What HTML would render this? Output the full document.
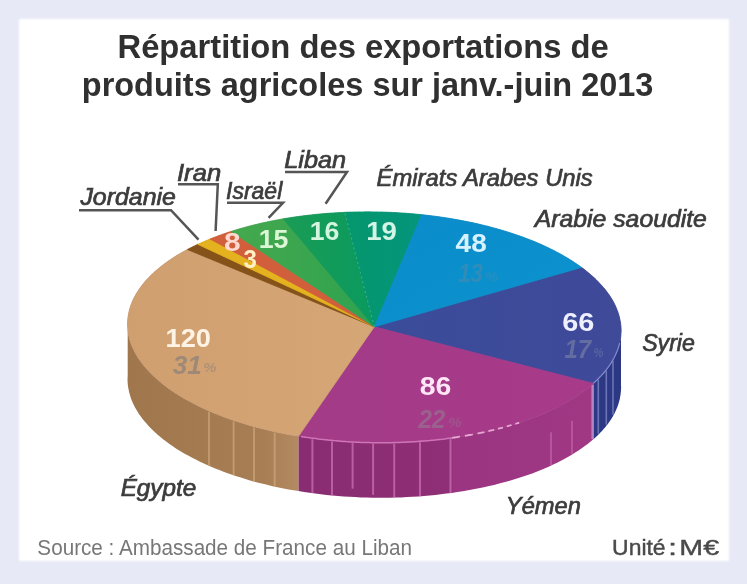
<!DOCTYPE html>
<html lang="fr"><head><meta charset="utf-8"><title>Répartition des exportations de produits agricoles</title>
<style>
html,body{margin:0;padding:0}
body{width:747px;height:584px;background:#e7e9f6;position:relative;overflow:hidden;font-family:"Liberation Sans",sans-serif}
.panel{position:absolute;left:19px;top:19px;width:710px;height:542px;background:#fff;filter:blur(1px)}
</style></head><body>
<div class="panel"></div>
<svg width="747" height="584" viewBox="0 0 747 584" style="position:absolute;left:0;top:0;filter:blur(0.55px)">
<defs>
<linearGradient id="geg" x1="0" y1="0" x2="1" y2="0"><stop offset="0" stop-color="#d09f70"/><stop offset="1" stop-color="#d5a676"/></linearGradient>
<linearGradient id="gye" x1="0" y1="0" x2="1" y2="0"><stop offset="0" stop-color="#a33b87"/><stop offset="1" stop-color="#a83a8a"/></linearGradient>
<linearGradient id="gsy" x1="0" y1="0" x2="1" y2="0"><stop offset="0" stop-color="#3a4c9a"/><stop offset="1" stop-color="#3f4a99"/></linearGradient>
<linearGradient id="gar" x1="0" y1="0" x2="1" y2="1"><stop offset="0" stop-color="#0a8cc9"/><stop offset="1" stop-color="#0c93cf"/></linearGradient>
<linearGradient id="gem" x1="0" y1="0" x2="1" y2="0"><stop offset="0" stop-color="#05976c"/><stop offset="1" stop-color="#04957c"/></linearGradient>
<linearGradient id="gli" x1="0" y1="0" x2="1" y2="0"><stop offset="0" stop-color="#1a9c55"/><stop offset="1" stop-color="#0a9a5f"/></linearGradient>
<linearGradient id="gis" x1="0" y1="0" x2="1" y2="0"><stop offset="0" stop-color="#45a94e"/><stop offset="1" stop-color="#2fa250"/></linearGradient>
<linearGradient id="gsideeg" gradientUnits="userSpaceOnUse" x1="127" y1="0" x2="299" y2="0"><stop offset="0" stop-color="#a0764c"/><stop offset="0.8" stop-color="#a87e55"/><stop offset="1" stop-color="#b48a62"/></linearGradient>
<linearGradient id="gsideye" gradientUnits="userSpaceOnUse" x1="299" y1="0" x2="592" y2="0"><stop offset="0" stop-color="#892c71"/><stop offset="0.51" stop-color="#8f2f77"/><stop offset="0.53" stop-color="#9b3581"/><stop offset="1" stop-color="#a03884"/></linearGradient>
</defs>
<path d="M298.6 436.1 L293.6 435.3 L288.5 434.4 L283.6 433.4 L278.6 432.4 L273.7 431.4 L268.9 430.3 L264.1 429.1 L259.3 427.9 L254.6 426.7 L250.0 425.4 L245.4 424.0 L240.9 422.6 L236.4 421.2 L232.1 419.7 L227.7 418.2 L223.5 416.7 L219.3 415.0 L215.2 413.4 L211.1 411.7 L207.2 410.0 L203.3 408.2 L199.5 406.4 L195.8 404.6 L192.1 402.7 L188.6 400.8 L185.1 398.9 L181.7 396.9 L178.4 394.9 L175.2 392.9 L172.1 390.8 L169.1 388.7 L166.2 386.6 L163.4 384.4 L160.7 382.2 L158.0 380.0 L155.5 377.8 L153.1 375.5 L150.8 373.3 L148.6 371.0 L146.5 368.6 L144.5 366.3 L142.6 363.9 L140.8 361.6 L139.1 359.2 L137.6 356.8 L136.1 354.3 L134.8 351.9 L133.6 349.5 L132.4 347.0 L131.4 344.6 L130.5 342.1 L129.8 339.6 L129.1 337.1 L128.6 334.6 L128.1 332.1 L127.8 329.6 L127.6 327.1 L127.5 324.6 L127.6 322.2 L127.7 319.7 L127.7 374.7 L127.6 377.2 L127.5 379.6 L127.6 382.1 L127.8 384.6 L128.1 387.1 L128.6 389.6 L129.1 392.1 L129.8 394.6 L130.5 397.1 L131.4 399.6 L132.4 402.0 L133.6 404.5 L134.8 406.9 L136.1 409.3 L137.6 411.8 L139.1 414.2 L140.8 416.6 L142.6 418.9 L144.5 421.3 L146.5 423.6 L148.6 426.0 L150.8 428.3 L153.1 430.5 L155.5 432.8 L158.0 435.0 L160.7 437.2 L163.4 439.4 L166.2 441.6 L169.1 443.7 L172.1 445.8 L175.2 447.9 L178.4 449.9 L181.7 451.9 L185.1 453.9 L188.6 455.8 L192.1 457.7 L195.8 459.6 L199.5 461.4 L203.3 463.2 L207.2 465.0 L211.1 466.7 L215.2 468.4 L219.3 470.0 L223.5 471.7 L227.7 473.2 L232.1 474.7 L236.4 476.2 L240.9 477.6 L245.4 479.0 L250.0 480.4 L254.6 481.7 L259.3 482.9 L264.1 484.1 L268.9 485.3 L273.7 486.4 L278.6 487.4 L283.6 488.4 L288.5 489.4 L293.6 490.3 L298.6 491.1Z" fill="url(#gsideeg)"/>
<path d="M593.3 383.4 L590.6 385.7 L587.7 388.1 L584.8 390.3 L581.7 392.6 L578.5 394.8 L575.2 397.0 L571.8 399.1 L568.3 401.2 L564.7 403.2 L561.0 405.3 L557.1 407.2 L553.2 409.2 L549.2 411.0 L545.1 412.9 L540.9 414.7 L536.6 416.4 L532.2 418.1 L527.7 419.7 L523.1 421.3 L518.5 422.9 L513.7 424.4 L508.9 425.8 L504.1 427.2 L499.1 428.5 L494.1 429.8 L489.0 431.0 L483.9 432.2 L478.7 433.3 L473.4 434.3 L468.1 435.3 L462.8 436.2 L457.3 437.1 L451.9 437.9 L446.4 438.6 L440.8 439.3 L435.3 439.9 L429.7 440.5 L424.0 441.0 L418.4 441.4 L412.7 441.8 L407.0 442.1 L401.2 442.4 L395.5 442.6 L389.7 442.7 L384.0 442.8 L378.2 442.8 L372.4 442.7 L366.6 442.6 L360.9 442.4 L355.1 442.1 L349.4 441.8 L343.6 441.4 L337.9 441.0 L332.2 440.5 L326.5 439.9 L320.9 439.3 L315.3 438.6 L309.7 437.8 L304.1 437.0 L298.6 436.1 L298.6 491.1 L304.1 492.0 L309.7 492.8 L315.3 493.6 L320.9 494.3 L326.5 494.9 L332.2 495.5 L337.9 496.0 L343.6 496.4 L349.4 496.8 L355.1 497.1 L360.9 497.4 L366.6 497.6 L372.4 497.7 L378.2 497.8 L384.0 497.8 L389.7 497.7 L395.5 497.6 L401.2 497.4 L407.0 497.1 L412.7 496.8 L418.4 496.4 L424.0 496.0 L429.7 495.5 L435.3 494.9 L440.8 494.3 L446.4 493.6 L451.9 492.9 L457.3 492.1 L462.8 491.2 L468.1 490.3 L473.4 489.3 L478.7 488.3 L483.9 487.2 L489.0 486.1 L494.1 484.9 L499.1 483.6 L504.1 482.3 L508.9 480.9 L513.7 479.5 L518.5 478.1 L523.1 476.5 L527.7 475.0 L532.2 473.4 L536.6 471.7 L540.9 470.0 L545.1 468.2 L549.2 466.4 L553.2 464.6 L557.1 462.7 L561.0 460.8 L564.7 458.8 L568.3 456.8 L571.8 454.7 L575.2 452.6 L578.5 450.5 L581.7 448.3 L584.8 446.1 L587.7 443.9 L590.6 441.6 L593.3 439.3Z" fill="url(#gsideye)"/>
<path d="M621.0 328.0 L621.0 329.0 L621.1 329.9 L621.1 330.9 L621.1 331.9 L621.0 332.8 L621.0 333.8 L620.9 334.8 L620.8 335.7 L620.7 336.7 L620.6 337.6 L620.5 338.6 L620.3 339.6 L620.1 340.5 L620.0 341.5 L619.8 342.4 L619.5 343.4 L619.3 344.3 L619.0 345.3 L618.8 346.3 L618.5 347.2 L618.2 348.2 L617.9 349.1 L617.5 350.0 L617.2 351.0 L616.8 351.9 L616.4 352.9 L616.0 353.8 L615.6 354.8 L615.1 355.7 L614.7 356.6 L614.2 357.6 L613.7 358.5 L613.2 359.4 L612.7 360.3 L612.1 361.3 L611.6 362.2 L611.0 363.1 L610.4 364.0 L609.8 364.9 L609.2 365.8 L608.5 366.7 L607.9 367.6 L607.2 368.5 L606.5 369.4 L605.8 370.3 L605.1 371.2 L604.3 372.1 L603.6 373.0 L602.8 373.9 L602.0 374.8 L601.2 375.7 L600.4 376.5 L599.6 377.4 L598.7 378.3 L597.9 379.1 L597.0 380.0 L596.1 380.8 L595.2 381.7 L594.2 382.6 L593.3 383.4 L593.3 439.3 L594.2 438.5 L595.2 437.7 L596.1 436.8 L597.0 436.0 L597.9 435.2 L598.7 434.3 L599.6 433.5 L600.4 432.6 L601.2 431.7 L602.0 430.9 L602.8 430.0 L603.6 429.1 L604.3 428.3 L605.1 427.4 L605.8 426.5 L606.5 425.6 L607.2 424.8 L607.9 423.9 L608.5 423.0 L609.2 422.1 L609.8 421.2 L610.4 420.3 L611.0 419.4 L611.6 418.5 L612.1 417.6 L612.7 416.7 L613.2 415.7 L613.7 414.8 L614.2 413.9 L614.7 413.0 L615.1 412.1 L615.6 411.1 L616.0 410.2 L616.4 409.3 L616.8 408.3 L617.2 407.4 L617.5 406.5 L617.9 405.5 L618.2 404.6 L618.5 403.6 L618.8 402.7 L619.0 401.8 L619.3 400.8 L619.5 399.9 L619.8 398.9 L620.0 398.0 L620.1 397.0 L620.3 396.0 L620.5 395.1 L620.6 394.1 L620.7 393.2 L620.8 392.2 L620.9 391.3 L621.0 390.3 L621.0 389.3 L621.1 388.4 L621.1 387.4 L621.1 386.4 L621.0 385.5 L621.0 384.5Z" fill="#2c3884"/>
<line x1="209.0" y1="411.8" x2="209.0" y2="465.8" stroke="#cfa77c" stroke-width="1.8" opacity="0.75"/>
<line x1="233.6" y1="421.3" x2="233.6" y2="475.3" stroke="#cfa77c" stroke-width="1.8" opacity="0.75"/>
<line x1="254.0" y1="427.5" x2="254.0" y2="481.5" stroke="#cfa77c" stroke-width="1.8" opacity="0.75"/>
<line x1="274.7" y1="432.6" x2="274.7" y2="486.6" stroke="#cfa77c" stroke-width="1.8" opacity="0.75"/>
<line x1="312.4" y1="439.2" x2="312.4" y2="493.2" stroke="#cf74b8" stroke-width="2.0" opacity="0.70"/>
<line x1="332.0" y1="441.4" x2="332.0" y2="495.4" stroke="#cf74b8" stroke-width="2.0" opacity="0.70"/>
<line x1="352.6" y1="443.0" x2="352.6" y2="488.7" stroke="#cf74b8" stroke-width="2.0" opacity="0.70"/>
<line x1="373.1" y1="443.7" x2="373.1" y2="494.9" stroke="#cf74b8" stroke-width="2.0" opacity="0.70"/>
<line x1="394.2" y1="443.6" x2="394.2" y2="497.6" stroke="#cf74b8" stroke-width="2.0" opacity="0.70"/>
<line x1="420.0" y1="442.3" x2="420.0" y2="496.3" stroke="#cf74b8" stroke-width="2.0" opacity="0.70"/>
<line x1="450.5" y1="439.1" x2="450.5" y2="493.1" stroke="#cf74b8" stroke-width="2.0" opacity="0.70"/>
<line x1="551.0" y1="432.2" x2="551.0" y2="465.2" stroke="#cf74b8" stroke-width="1.8" opacity="0.55"/>
<line x1="572.0" y1="421.0" x2="572.0" y2="454.0" stroke="#cf74b8" stroke-width="1.8" opacity="0.55"/>
<line x1="592.6" y1="385.0" x2="592.6" y2="439.0" stroke="#b98fd0" stroke-width="2.4" opacity="0.85"/>
<line x1="598.3" y1="379.7" x2="598.3" y2="433.7" stroke="#7f88c8" stroke-width="1.6" opacity="0.75"/>
<line x1="606.3" y1="370.7" x2="606.3" y2="424.7" stroke="#7f88c8" stroke-width="1.6" opacity="0.75"/>
<line x1="613.0" y1="360.7" x2="613.0" y2="414.7" stroke="#7f88c8" stroke-width="1.6" opacity="0.75"/>
<path d="M621.1 331.5 L620.6 337.5 L619.5 343.5 L617.7 349.5 L615.3 355.4 L612.2 361.2 L608.4 366.9 L604.0 372.6 L598.9 378.0 L593.3 383.4 L587.0 388.6 L580.2 393.6 L572.8 398.5 L564.8 403.2 L556.4 407.6 L547.4 411.8 L538.0 415.8 L528.1 419.6 L517.8 423.1 L507.1 426.3 L496.0 429.3 L484.6 432.0 L472.9 434.4 L460.9 436.5 L448.7 438.3 L436.3 439.8 L423.7 441.0 L411.0 441.9 L398.2 442.5 L385.3 442.7 L372.3 442.7 L359.4 442.3 L346.6 441.6 L333.8 440.6 L321.1 439.3 L308.5 437.7 L296.2 435.7 L284.0 433.5 L272.1 431.0 L260.5 428.2 L249.2 425.1 L238.3 421.8 L227.7 418.2 L217.5 414.3 L207.7 410.3 L198.4 405.9 L189.6 401.4 L181.3 396.7 L173.5 391.7 L166.3 386.6 L159.6 381.4 L153.5 376.0 L148.1 370.4 L143.2 364.7 L139.0 359.0 L135.4 353.1 L132.5 347.2 L130.3 341.2 L128.7 335.2 L127.8 329.2 L127.5 323.1 L128.0 317.1 L129.1 311.1 L130.9 305.1 L133.3 299.2 L136.4 293.4 L140.2 287.7 L144.6 282.0 L149.7 276.6 L155.3 271.2 L161.6 266.0 L168.4 261.0 L175.8 256.1 L183.8 251.4 L192.2 247.0 L201.2 242.8 L210.6 238.8 L220.5 235.0 L230.8 231.5 L241.5 228.3 L252.6 225.3 L264.0 222.6 L275.7 220.2 L287.7 218.1 L299.9 216.3 L312.3 214.8 L324.9 213.6 L337.6 212.7 L350.4 212.1 L363.3 211.9 L376.3 211.9 L389.2 212.3 L402.0 213.0 L414.8 214.0 L427.5 215.3 L440.1 216.9 L452.4 218.9 L464.6 221.1 L476.5 223.6 L488.1 226.4 L499.4 229.5 L510.3 232.8 L520.9 236.4 L531.1 240.3 L540.9 244.3 L550.2 248.7 L559.0 253.2 L567.3 257.9 L575.1 262.9 L582.3 268.0 L589.0 273.2 L595.1 278.6 L600.5 284.2 L605.4 289.9 L609.6 295.6 L613.2 301.5 L616.1 307.4 L618.3 313.4 L619.9 319.4 L620.8 325.4 L621.1 331.5Z" fill="#7a6a80"/>
<path d="M374.3 326.8 L581.5 267.4 L583.9 269.1 L586.1 270.9 L588.3 272.7 L590.4 274.5 L592.5 276.3 L594.5 278.1 L596.4 279.9 L598.2 281.8 L600.0 283.7 L601.7 285.5 L603.4 287.4 L605.0 289.3 L606.5 291.3 L607.9 293.2 L609.3 295.1 L610.5 297.1 L611.8 299.0 L612.9 301.0 L614.0 303.0 L615.0 305.0 L615.9 307.0 L616.7 309.0 L617.5 311.0 L618.2 313.0 L618.8 315.0 L619.4 317.0 L619.8 319.0 L620.2 321.0 L620.6 323.1 L620.8 325.1 L621.0 327.1 L621.1 329.1 L621.1 331.2 L621.0 333.2 L620.9 335.2 L620.7 337.2 L620.4 339.3 L620.0 341.3 L619.6 343.3 L619.1 345.3 L618.5 347.3 L617.8 349.3 L617.1 351.3 L616.2 353.2 L615.3 355.2 L614.4 357.2 L613.3 359.1 L612.2 361.1 L611.0 363.0 L609.8 364.9 L608.5 366.8 L607.1 368.7 L605.6 370.6 L604.0 372.5 L602.4 374.3 L600.7 376.2 L599.0 378.0 L597.2 379.8 L595.3 381.6 L593.3 383.4Z" fill="url(#gsy)" stroke="url(#gsy)" stroke-width="0.8" stroke-linejoin="round"/>
<path d="M374.3 326.8 L593.3 383.4 L590.6 385.7 L587.7 388.1 L584.8 390.3 L581.7 392.6 L578.5 394.8 L575.2 397.0 L571.8 399.1 L568.3 401.2 L564.7 403.2 L561.0 405.3 L557.1 407.2 L553.2 409.2 L549.2 411.0 L545.1 412.9 L540.9 414.7 L536.6 416.4 L532.2 418.1 L527.7 419.7 L523.1 421.3 L518.5 422.9 L513.7 424.4 L508.9 425.8 L504.1 427.2 L499.1 428.5 L494.1 429.8 L489.0 431.0 L483.9 432.2 L478.7 433.3 L473.4 434.3 L468.1 435.3 L462.8 436.2 L457.3 437.1 L451.9 437.9 L446.4 438.6 L440.8 439.3 L435.3 439.9 L429.7 440.5 L424.0 441.0 L418.4 441.4 L412.7 441.8 L407.0 442.1 L401.2 442.4 L395.5 442.6 L389.7 442.7 L384.0 442.8 L378.2 442.8 L372.4 442.7 L366.6 442.6 L360.9 442.4 L355.1 442.1 L349.4 441.8 L343.6 441.4 L337.9 441.0 L332.2 440.5 L326.5 439.9 L320.9 439.3 L315.3 438.6 L309.7 437.8 L304.1 437.0 L298.6 436.1Z" fill="url(#gye)" stroke="url(#gye)" stroke-width="0.8" stroke-linejoin="round"/>
<path d="M374.3 326.8 L298.6 436.1 L290.9 434.8 L283.4 433.4 L275.9 431.8 L268.5 430.2 L261.2 428.4 L254.1 426.5 L247.1 424.5 L240.2 422.4 L233.5 420.2 L226.9 417.9 L220.5 415.5 L214.2 413.0 L208.1 410.4 L202.2 407.8 L196.5 405.0 L191.0 402.1 L185.7 399.2 L180.6 396.2 L175.6 393.1 L170.9 390.0 L166.5 386.8 L162.2 383.5 L158.2 380.1 L154.4 376.7 L150.8 373.3 L147.5 369.8 L144.4 366.2 L141.6 362.7 L139.0 359.0 L136.7 355.4 L134.7 351.7 L132.9 347.9 L131.3 344.2 L130.0 340.4 L129.0 336.7 L128.3 332.9 L127.8 329.1 L127.5 325.3 L127.6 321.5 L127.9 317.7 L128.5 314.0 L129.3 310.2 L130.4 306.5 L131.8 302.7 L133.4 299.1 L135.3 295.4 L137.5 291.8 L139.9 288.2 L142.5 284.6 L145.4 281.1 L148.6 277.7 L152.0 274.3 L155.6 270.9 L159.5 267.7 L163.6 264.4 L167.9 261.3 L172.5 258.2 L177.2 255.2 L182.2 252.3 L187.4 249.5Z" fill="url(#geg)" stroke="url(#geg)" stroke-width="0.8" stroke-linejoin="round"/>
<path d="M374.3 326.8 L187.4 249.5 L187.6 249.4 L187.7 249.3 L187.9 249.2 L188.1 249.1 L188.2 249.0 L188.4 248.9 L188.6 248.8 L188.7 248.8 L188.9 248.7 L189.1 248.6 L189.2 248.5 L189.4 248.4 L189.6 248.3 L189.8 248.2 L189.9 248.2 L190.1 248.1 L190.3 248.0 L190.4 247.9 L190.6 247.8 L190.8 247.7 L190.9 247.6 L191.1 247.5 L191.3 247.5 L191.4 247.4 L191.6 247.3 L191.8 247.2 L192.0 247.1 L192.1 247.0 L192.3 246.9 L192.5 246.9 L192.6 246.8 L192.8 246.7 L193.0 246.6 L193.2 246.5 L193.3 246.4 L193.5 246.4 L193.7 246.3 L193.9 246.2 L194.0 246.1 L194.2 246.0 L194.4 245.9 L194.6 245.8 L194.7 245.8 L194.9 245.7 L195.1 245.6 L195.3 245.5 L195.4 245.4 L195.6 245.3 L195.8 245.3 L196.0 245.2 L196.1 245.1 L196.3 245.0 L196.5 244.9 L196.7 244.8 L196.8 244.8 L197.0 244.7 L197.2 244.6 L197.4 244.5 L197.5 244.4 L197.7 244.3Z" fill="#85531a" stroke="#85531a" stroke-width="0.8" stroke-linejoin="round"/>
<path d="M374.3 326.8 L197.7 244.3 L197.9 244.3 L198.1 244.2 L198.3 244.1 L198.5 244.0 L198.7 243.9 L198.9 243.8 L199.1 243.7 L199.3 243.6 L199.5 243.5 L199.7 243.4 L199.9 243.3 L200.1 243.2 L200.3 243.2 L200.5 243.1 L200.7 243.0 L200.9 242.9 L201.1 242.8 L201.3 242.7 L201.5 242.6 L201.7 242.5 L201.9 242.4 L202.1 242.3 L202.3 242.3 L202.5 242.2 L202.7 242.1 L202.9 242.0 L203.1 241.9 L203.3 241.8 L203.5 241.7 L203.7 241.6 L203.9 241.5 L204.2 241.5 L204.4 241.4 L204.6 241.3 L204.8 241.2 L205.0 241.1 L205.2 241.0 L205.4 240.9 L205.6 240.8 L205.8 240.8 L206.0 240.7 L206.2 240.6 L206.4 240.5 L206.6 240.4 L206.8 240.3 L207.0 240.2 L207.2 240.1 L207.5 240.1 L207.7 240.0 L207.9 239.9 L208.1 239.8 L208.3 239.7 L208.5 239.6 L208.7 239.5 L208.9 239.5 L209.1 239.4 L209.3 239.3 L209.5 239.2 L209.8 239.1 L210.0 239.0Z" fill="#e3b21e" stroke="#e3b21e" stroke-width="0.8" stroke-linejoin="round"/>
<path d="M374.3 326.8 L210.0 239.0 L210.3 238.9 L210.6 238.8 L211.0 238.6 L211.3 238.5 L211.7 238.3 L212.0 238.2 L212.3 238.1 L212.7 237.9 L213.0 237.8 L213.4 237.7 L213.7 237.5 L214.0 237.4 L214.4 237.3 L214.7 237.2 L215.1 237.0 L215.4 236.9 L215.8 236.8 L216.1 236.6 L216.5 236.5 L216.8 236.4 L217.2 236.2 L217.5 236.1 L217.9 236.0 L218.2 235.8 L218.6 235.7 L218.9 235.6 L219.3 235.5 L219.6 235.3 L220.0 235.2 L220.3 235.1 L220.7 235.0 L221.0 234.8 L221.4 234.7 L221.7 234.6 L222.1 234.4 L222.4 234.3 L222.8 234.2 L223.1 234.1 L223.5 233.9 L223.9 233.8 L224.2 233.7 L224.6 233.6 L224.9 233.5 L225.3 233.3 L225.7 233.2 L226.0 233.1 L226.4 233.0 L226.7 232.8 L227.1 232.7 L227.5 232.6 L227.8 232.5 L228.2 232.4 L228.6 232.2 L228.9 232.1 L229.3 232.0 L229.6 231.9 L230.0 231.8 L230.4 231.6 L230.7 231.5 L231.1 231.4Z" fill="#d25f3b" stroke="#d25f3b" stroke-width="0.8" stroke-linejoin="round"/>
<path d="M374.3 326.8 L231.1 231.4 L231.9 231.2 L232.7 230.9 L233.5 230.6 L234.4 230.4 L235.2 230.1 L236.0 229.9 L236.8 229.6 L237.6 229.4 L238.5 229.1 L239.3 228.9 L240.1 228.7 L241.0 228.4 L241.8 228.2 L242.6 227.9 L243.5 227.7 L244.3 227.5 L245.1 227.2 L246.0 227.0 L246.8 226.8 L247.7 226.6 L248.5 226.3 L249.4 226.1 L250.3 225.9 L251.1 225.7 L252.0 225.4 L252.8 225.2 L253.7 225.0 L254.6 224.8 L255.4 224.6 L256.3 224.4 L257.2 224.2 L258.0 224.0 L258.9 223.8 L259.8 223.6 L260.7 223.3 L261.5 223.1 L262.4 222.9 L263.3 222.8 L264.2 222.6 L265.1 222.4 L266.0 222.2 L266.9 222.0 L267.8 221.8 L268.7 221.6 L269.6 221.4 L270.4 221.2 L271.3 221.0 L272.2 220.9 L273.2 220.7 L274.1 220.5 L275.0 220.3 L275.9 220.2 L276.8 220.0 L277.7 219.8 L278.6 219.7 L279.5 219.5 L280.4 219.3 L281.3 219.2 L282.3 219.0 L283.2 218.8Z" fill="url(#gis)" stroke="url(#gis)" stroke-width="0.8" stroke-linejoin="round"/>
<path d="M374.3 326.8 L283.2 218.8 L284.2 218.7 L285.2 218.5 L286.2 218.3 L287.1 218.2 L288.1 218.0 L289.1 217.9 L290.1 217.7 L291.1 217.5 L292.1 217.4 L293.1 217.2 L294.1 217.1 L295.1 216.9 L296.1 216.8 L297.1 216.7 L298.2 216.5 L299.2 216.4 L300.2 216.2 L301.2 216.1 L302.2 216.0 L303.2 215.8 L304.2 215.7 L305.2 215.6 L306.3 215.5 L307.3 215.3 L308.3 215.2 L309.3 215.1 L310.4 215.0 L311.4 214.9 L312.4 214.8 L313.4 214.6 L314.5 214.5 L315.5 214.4 L316.5 214.3 L317.5 214.2 L318.6 214.1 L319.6 214.0 L320.7 213.9 L321.7 213.8 L322.7 213.8 L323.8 213.7 L324.8 213.6 L325.8 213.5 L326.9 213.4 L327.9 213.3 L329.0 213.3 L330.0 213.2 L331.0 213.1 L332.1 213.0 L333.1 213.0 L334.2 212.9 L335.2 212.8 L336.3 212.8 L337.3 212.7 L338.4 212.6 L339.4 212.6 L340.5 212.5 L341.5 212.5 L342.6 212.4 L343.6 212.4 L344.7 212.3Z" fill="url(#gli)" stroke="url(#gli)" stroke-width="0.8" stroke-linejoin="round"/>
<path d="M374.3 326.8 L344.7 212.3 L346.0 212.3 L347.2 212.2 L348.5 212.2 L349.8 212.1 L351.1 212.1 L352.4 212.1 L353.7 212.0 L354.9 212.0 L356.2 212.0 L357.5 211.9 L358.8 211.9 L360.1 211.9 L361.4 211.9 L362.7 211.9 L364.0 211.9 L365.2 211.8 L366.5 211.8 L367.8 211.8 L369.1 211.8 L370.4 211.8 L371.7 211.9 L373.0 211.9 L374.3 211.9 L375.6 211.9 L376.9 211.9 L378.1 212.0 L379.4 212.0 L380.7 212.0 L382.0 212.0 L383.3 212.1 L384.6 212.1 L385.9 212.2 L387.2 212.2 L388.5 212.3 L389.7 212.3 L391.0 212.4 L392.3 212.4 L393.6 212.5 L394.9 212.6 L396.2 212.6 L397.5 212.7 L398.7 212.8 L400.0 212.9 L401.3 212.9 L402.6 213.0 L403.9 213.1 L405.1 213.2 L406.4 213.3 L407.7 213.4 L409.0 213.5 L410.3 213.6 L411.5 213.7 L412.8 213.8 L414.1 213.9 L415.4 214.0 L416.6 214.2 L417.9 214.3 L419.2 214.4 L420.4 214.5 L421.7 214.7Z" fill="url(#gem)" stroke="url(#gem)" stroke-width="0.8" stroke-linejoin="round"/>
<path d="M374.3 326.8 L421.7 214.7 L424.9 215.0 L428.2 215.4 L431.4 215.8 L434.6 216.2 L437.8 216.6 L441.0 217.1 L444.2 217.5 L447.3 218.0 L450.5 218.5 L453.6 219.1 L456.7 219.6 L459.8 220.2 L462.9 220.8 L466.0 221.4 L469.1 222.0 L472.1 222.6 L475.1 223.3 L478.1 224.0 L481.1 224.7 L484.1 225.4 L487.1 226.1 L490.0 226.9 L492.9 227.7 L495.8 228.4 L498.7 229.3 L501.5 230.1 L504.3 230.9 L507.1 231.8 L509.9 232.7 L512.6 233.6 L515.4 234.5 L518.1 235.4 L520.7 236.3 L523.4 237.3 L526.0 238.3 L528.6 239.3 L531.2 240.3 L533.7 241.3 L536.2 242.3 L538.7 243.4 L541.1 244.5 L543.6 245.6 L546.0 246.7 L548.3 247.8 L550.6 248.9 L552.9 250.0 L555.2 251.2 L557.4 252.4 L559.6 253.5 L561.8 254.7 L563.9 256.0 L566.0 257.2 L568.1 258.4 L570.1 259.7 L572.1 260.9 L574.1 262.2 L576.0 263.5 L577.9 264.8 L579.7 266.1 L581.5 267.4Z" fill="url(#gar)" stroke="url(#gar)" stroke-width="0.8" stroke-linejoin="round"/>
<path d="M452.0 437.9 L449.6 438.2 L447.1 438.5 L444.7 438.9 L442.2 439.2 L439.8 439.4 L437.3 439.7 L434.8 440.0 L432.3 440.2 L429.8 440.5 L427.3 440.7 L424.8 440.9 L422.3 441.1 L419.8 441.3 L417.3 441.5 L414.8 441.7 L412.3 441.8 L409.7 442.0 L407.2 442.1 L404.7 442.2 L402.1 442.3 L399.6 442.4 L397.0 442.5 L394.5 442.6 L391.9 442.7 L389.4 442.7 L386.8 442.7 L384.3 442.8 L381.7 442.8 L379.2 442.8 L376.6 442.7 L374.0 442.7 L371.5 442.7 L368.9 442.6 L366.4 442.5 L363.8 442.5 L361.3 442.4 L358.7 442.3 L356.1 442.2 L353.6 442.0 L351.0 441.9 L348.5 441.7 L346.0 441.6 L343.4 441.4 L340.9 441.2 L338.3 441.0 L335.8 440.8 L333.3 440.6 L330.8 440.3 L328.3 440.1 L325.7 439.8 L323.2 439.5 L320.7 439.3 L318.2 439.0 L315.8 438.6 L313.3 438.3 L310.8 438.0 L308.3 437.6 L305.9 437.3 L303.4 436.9 L301.0 436.5" fill="none" stroke="#d77fc0" stroke-width="1.5" opacity="0.85"/>
<path d="M452.0 437.9 L453.3 437.7 L454.5 437.5 L455.8 437.3 L457.1 437.1 L458.3 436.9 L459.6 436.7 L460.9 436.5 L462.1 436.3 L463.4 436.1 L464.6 435.9 L465.9 435.7 L467.1 435.5 L468.4 435.2 L469.6 435.0 L470.8 434.8 L472.1 434.6 L473.3 434.3 L474.5 434.1 L475.8 433.9 L477.0 433.6 L478.2 433.4 L479.4 433.1 L480.6 432.9 L481.8 432.6 L483.0 432.3 L484.2 432.1 L485.4 431.8 L486.6 431.5 L487.8 431.3 L489.0 431.0 L490.2 430.7 L491.4 430.4 L492.6 430.2 L493.8 429.9 L494.9 429.6 L496.1 429.3 L497.3 429.0 L498.4 428.7 L499.6 428.4 L500.7 428.1 L501.9 427.8 L503.0 427.5 L504.2 427.2 L505.3 426.8 L506.5 426.5 L507.6 426.2 L508.7 425.9 L509.8 425.5 L511.0 425.2 L512.1 424.9 L513.2 424.5 L514.3 424.2 L515.4 423.9 L516.5 423.5 L517.6 423.2 L518.7 422.8 L519.8 422.5 L520.8 422.1 L521.9 421.7 L523.0 421.4" fill="none" stroke="#eeb4dc" stroke-width="1.8" stroke-dasharray="8 5 8 5 7 4 6 4 5 4 5 4 4 4" opacity="0.9"/>
<path d="M619.6 343.0 L619.5 343.7 L619.3 344.4 L619.1 345.1 L618.9 345.8 L618.7 346.5 L618.5 347.2 L618.3 347.9 L618.0 348.6 L617.8 349.3 L617.5 350.0 L617.3 350.7 L617.0 351.4 L616.7 352.1 L616.4 352.8 L616.1 353.5 L615.8 354.2 L615.5 354.9 L615.2 355.6 L614.8 356.3 L614.5 357.0 L614.1 357.7 L613.8 358.3 L613.4 359.0 L613.0 359.7 L612.6 360.4 L612.2 361.1 L611.8 361.8 L611.4 362.5 L611.0 363.1 L610.5 363.8 L610.1 364.5 L609.6 365.2 L609.2 365.8 L608.7 366.5 L608.2 367.2 L607.7 367.9 L607.2 368.5 L606.7 369.2 L606.2 369.9 L605.7 370.5 L605.1 371.2 L604.6 371.8 L604.0 372.5 L603.5 373.1 L602.9 373.8 L602.3 374.5 L601.7 375.1 L601.1 375.8 L600.5 376.4 L599.9 377.0 L599.3 377.7 L598.7 378.3 L598.0 379.0 L597.4 379.6 L596.7 380.2 L596.0 380.9 L595.4 381.5 L594.7 382.1 L594.0 382.8 L593.3 383.4" fill="none" stroke="#8c93d6" stroke-width="1.2" opacity="0.9"/>
<line x1="374.3" y1="326.8" x2="344.7" y2="212.3" stroke="#5fc7a0" stroke-width="1" stroke-dasharray="2 3" opacity="0.6"/>
<g fill="none" stroke="#555" stroke-width="2.5" stroke-linejoin="miter">
<path d="M79 210.2 H171 L198.5 239.6"/>
<path d="M178 184.3 H217.8 L215.6 231"/>
<path d="M227 202.8 H283 L268.6 217.8"/>
<path d="M285 172 H347 L325.6 203.7"/>
</g>
<g font-family="'Liberation Sans', sans-serif">
<text x="117.53" y="57.8" font-size="32.5" font-weight="bold" font-style="normal" fill="#303030" textLength="491.25" lengthAdjust="spacingAndGlyphs" >Répartition des exportations de</text>
<text x="81.80" y="96.2" font-size="32.5" font-weight="bold" font-style="normal" fill="#303030" textLength="571.62" lengthAdjust="spacingAndGlyphs" >produits agricoles sur janv.-juin 2013</text>
<text x="80.41" y="205.3" font-size="23" font-weight="normal" font-style="italic" fill="#3c3c3c" textLength="95.49" lengthAdjust="spacingAndGlyphs" stroke="#3c3c3c" stroke-width="0.7">Jordanie</text>
<text x="177.00" y="180.7" font-size="23" font-weight="normal" font-style="italic" fill="#3c3c3c" textLength="44.15" lengthAdjust="spacingAndGlyphs" stroke="#3c3c3c" stroke-width="0.7">Iran</text>
<text x="226.10" y="198.5" font-size="23" font-weight="normal" font-style="italic" fill="#3c3c3c" textLength="56.14" lengthAdjust="spacingAndGlyphs" stroke="#3c3c3c" stroke-width="0.7">Israël</text>
<text x="284.23" y="167.7" font-size="23" font-weight="normal" font-style="italic" fill="#3c3c3c" textLength="61.90" lengthAdjust="spacingAndGlyphs" stroke="#3c3c3c" stroke-width="0.7">Liban</text>
<text x="376.58" y="186.0" font-size="23" font-weight="normal" font-style="italic" fill="#3c3c3c" textLength="216.20" lengthAdjust="spacingAndGlyphs" stroke="#3c3c3c" stroke-width="0.7">Émirats Arabes Unis</text>
<text x="534.74" y="227.0" font-size="23" font-weight="normal" font-style="italic" fill="#3c3c3c" textLength="172.16" lengthAdjust="spacingAndGlyphs" stroke="#3c3c3c" stroke-width="0.7">Arabie saoudite</text>
<text x="642.15" y="350.9" font-size="23" font-weight="normal" font-style="italic" fill="#3c3c3c" textLength="52.71" lengthAdjust="spacingAndGlyphs" stroke="#3c3c3c" stroke-width="0.7">Syrie</text>
<text x="505.88" y="514.0" font-size="23" font-weight="normal" font-style="italic" fill="#3c3c3c" textLength="74.97" lengthAdjust="spacingAndGlyphs" stroke="#3c3c3c" stroke-width="0.7">Yémen</text>
<text x="120.66" y="496.4" font-size="23" font-weight="normal" font-style="italic" fill="#3c3c3c" textLength="75.54" lengthAdjust="spacingAndGlyphs" stroke="#3c3c3c" stroke-width="0.7">Égypte</text>
<text x="37.36" y="554.5" font-size="22" font-weight="normal" font-style="normal" fill="#777" textLength="374.65" lengthAdjust="spacingAndGlyphs" >Source : Ambassade de France au Liban</text>
<g><text x="612.08" y="555.0" font-size="22" font-weight="normal" font-style="normal" fill="#4a4a4a" textLength="53.52" lengthAdjust="spacingAndGlyphs" stroke="#4a4a4a" stroke-width="0.4">Unité</text><text x="658.94" y="555.0" font-size="22" font-weight="normal" font-style="normal" fill="#4a4a4a" textLength="27.29" lengthAdjust="spacingAndGlyphs" stroke="#4a4a4a" stroke-width="0.4" xml:space="preserve" style="white-space:pre"> : </text><text x="679.36" y="555.0" font-size="22" font-weight="normal" font-style="normal" fill="#4a4a4a" textLength="39.78" lengthAdjust="spacingAndGlyphs" stroke="#4a4a4a" stroke-width="0.4">M€</text></g>
<text x="165.61" y="347.2" font-size="25" font-weight="bold" font-style="normal" fill="#fff3e6" textLength="45.39" lengthAdjust="spacingAndGlyphs" >120</text>
<text x="419.65" y="395.0" font-size="25" font-weight="bold" font-style="normal" fill="#ffe6f7" textLength="31.52" lengthAdjust="spacingAndGlyphs" >86</text>
<text x="562.26" y="331.0" font-size="25" font-weight="bold" font-style="normal" fill="#eef0ff" textLength="32.13" lengthAdjust="spacingAndGlyphs" >66</text>
<text x="455.61" y="251.9" font-size="25" font-weight="bold" font-style="normal" fill="#d6f1ff" textLength="31.14" lengthAdjust="spacingAndGlyphs" >48</text>
<text x="366.19" y="239.8" font-size="25" font-weight="bold" font-style="normal" fill="#d3f5e6" textLength="30.71" lengthAdjust="spacingAndGlyphs" >19</text>
<text x="309.65" y="239.8" font-size="25" font-weight="bold" font-style="normal" fill="#d3f5e0" textLength="29.67" lengthAdjust="spacingAndGlyphs" >16</text>
<text x="258.74" y="247.8" font-size="25" font-weight="bold" font-style="normal" fill="#dcf7d6" textLength="29.76" lengthAdjust="spacingAndGlyphs" >15</text>
<text x="224.10" y="250.8" font-size="25" font-weight="bold" font-style="normal" fill="#ffd9d0" textLength="16.59" lengthAdjust="spacingAndGlyphs" >8</text>
<text x="243.47" y="267.8" font-size="25" font-weight="bold" font-style="normal" fill="#fff0c4" textLength="13.35" lengthAdjust="spacingAndGlyphs" >3</text>
<text x="172.84" y="373.5" font-size="25" font-weight="bold" font-style="italic" fill="#77777d" textLength="29.02" lengthAdjust="spacingAndGlyphs" opacity="0.56">31</text><text x="203.20" y="372.3" font-size="12" font-weight="bold" font-style="italic" fill="#77777d" textLength="13.20" lengthAdjust="spacingAndGlyphs" opacity="0.392">%</text>
<text x="418.39" y="428.0" font-size="25" font-weight="bold" font-style="italic" fill="#8f8f96" textLength="26.86" lengthAdjust="spacingAndGlyphs" opacity="0.45">22</text><text x="448.20" y="426.8" font-size="12" font-weight="bold" font-style="italic" fill="#8f8f96" textLength="13.20" lengthAdjust="spacingAndGlyphs" opacity="0.315">%</text>
<text x="564.42" y="357.8" font-size="25" font-weight="bold" font-style="italic" fill="#8a90a8" textLength="26.63" lengthAdjust="spacingAndGlyphs" opacity="0.5">17</text><text x="593.40" y="356.6" font-size="12" font-weight="bold" font-style="italic" fill="#8a90a8" textLength="9.90" lengthAdjust="spacingAndGlyphs" opacity="0.35">%</text>
<text x="458.15" y="281.7" font-size="25" font-weight="bold" font-style="italic" fill="#7f8790" textLength="24.58" lengthAdjust="spacingAndGlyphs" opacity="0.33">13</text><text x="484.70" y="280.5" font-size="12" font-weight="bold" font-style="italic" fill="#7f8790" textLength="13.20" lengthAdjust="spacingAndGlyphs" opacity="0.23099999999999998">%</text>
</g>
</svg>
</body></html>
